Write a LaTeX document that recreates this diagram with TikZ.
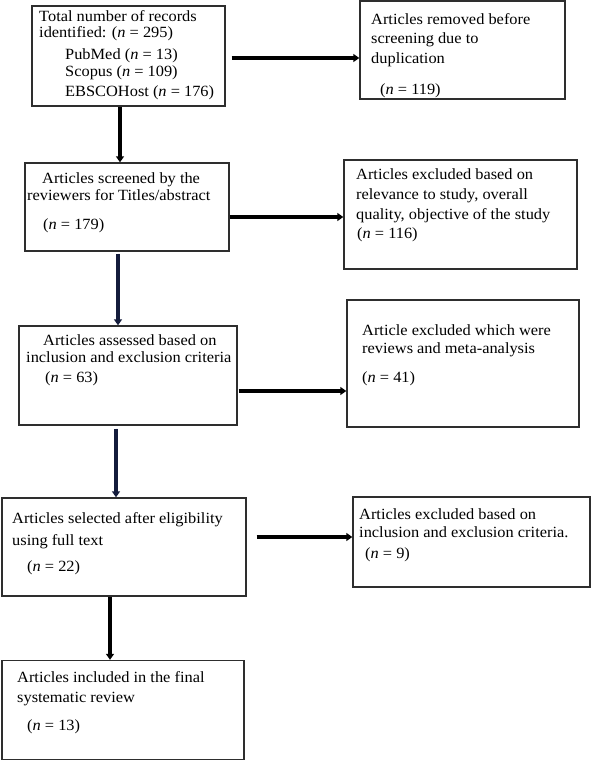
\documentclass[tikz,border=0pt]{standalone}
\usepackage{fontspec}
\setmainfont[FakeStretch=1.05]{Liberation Serif}
\usetikzlibrary{arrows.meta}
\definecolor{boxline}{HTML}{2E2E2E}
\definecolor{navy}{HTML}{141C3C}
\begin{document}
\begin{tikzpicture}[x=1pt,y=-1pt,
  box/.style={draw=boxline,line width=1.4pt,inner sep=0pt,rectangle,fill=none},
  txt/.style={anchor=base west,inner sep=0pt,font=\fontsize{15.6}{18}\selectfont},
  arr/.style={line width=3.6pt,draw=black,-{Triangle[width=8pt,length=6pt]}},
  navyarr/.style={arr,draw=navy,fill=navy}]
\useasboundingbox (0,0) rectangle (592,761);
% boxes
\node[box,minimum width=193,minimum height=100] (b1) at (128.5,56) {};
\node[box,minimum width=205,minimum height=98] (b2) at (462.5,50) {};
\node[box,minimum width=204,minimum height=88] (b3) at (127,207) {};
\node[box,minimum width=233,minimum height=109] (b4) at (460.5,214.5) {};
\node[box,minimum width=218,minimum height=99] (b5) at (128,375.5) {};
\node[box,minimum width=232,minimum height=127] (b6) at (463,363.5) {};
\node[box,minimum width=244,minimum height=98] (b7) at (124,547) {};
\node[box,minimum width=237,minimum height=90] (b8) at (471.5,542) {};
\node[box,minimum width=242,minimum height=99] (b9) at (123,710) {};
% texts
\node[txt] (t1a) at (39,21) {Total number of records};
\node[txt] (t1b) at (39,37) {identified: (\textit{n} = 295)};
\node[txt] (t1c) at (65,59) {PubMed (\textit{n} = 13)};
\node[txt] (t1d) at (65,76) {Scopus (\textit{n} = 109)};
\node[txt] (t1e) at (65,96) {EBSCOHost (\textit{n} = 176)};
\node[txt] (t2a) at (371,24) {Articles removed before};
\node[txt] (t2b) at (371,43) {screening due to};
\node[txt] (t2c) at (371,63) {duplication};
\node[txt] (t2d) at (380,94) {(\textit{n} = 119)};
\node[txt] (t3a) at (42,183) {Articles screened by the};
\node[txt] (t3b) at (27,200) {reviewers for Titles/abstract};
\node[txt] (t3c) at (43,229) {(\textit{n} = 179)};
\node[txt] (t4a) at (356,179) {Articles excluded based on};
\node[txt] (t4b) at (356,199) {relevance to study, overall};
\node[txt] (t4c) at (356,219) {quality, objective of the study};
\node[txt] (t4d) at (357,238) {(\textit{n} = 116)};
\node[txt] (t5a) at (43,345) {Articles assessed based on};
\node[txt] (t5b) at (26,362) {inclusion and exclusion criteria};
\node[txt] (t5c) at (45,382) {(\textit{n} = 63)};
\node[txt] (t6a) at (362,335) {Article excluded which were};
\node[txt] (t6b) at (362,353) {reviews and meta-analysis};
\node[txt] (t6c) at (362,382) {(\textit{n} = 41)};
\node[txt] (t7a) at (12,523) {Articles selected after eligibility};
\node[txt] (t7b) at (12,545) {using full text};
\node[txt] (t7c) at (27,571) {(\textit{n} = 22)};
\node[txt] (t8a) at (359,519) {Articles excluded based on};
\node[txt] (t8b) at (359,537) {inclusion and exclusion criteria.};
\node[txt] (t8c) at (365,558) {(\textit{n} = 9)};
\node[txt] (t9a) at (17,682) {Articles included in the final};
\node[txt] (t9b) at (17,702) {systematic review};
\node[txt] (t9c) at (27,730) {(\textit{n} = 13)};
% connectors
\draw[arr] ([xshift=6pt,yshift=-2pt]b1.east) -- ([yshift=-2pt]b1.east -| b2.west);
\draw[arr] ([xshift=-8.5pt]b1.south) -- ([xshift=-8.5pt]b1.south |- b3.north);
\draw[arr] ([yshift=-10pt]b3.east) -- ([yshift=-10pt]b3.east -| b4.west);
\draw[navyarr] ([xshift=-9pt,yshift=-2pt]b3.south) -- ([xshift=-9pt]b3.south |- b5.north);
\draw[arr] ([xshift=1pt,yshift=-15.5pt]b5.east) -- ([yshift=-15.5pt]b5.east -| b6.west);
\draw[navyarr] ([xshift=-12pt,yshift=-3pt]b5.south) -- ([xshift=-12pt]b5.south |- b7.north);
\draw[arr] ([xshift=10pt,yshift=10pt]b7.east) -- ([yshift=10pt]b7.east -| b8.west);
\draw[arr] ([xshift=-14pt]b7.south) -- ([xshift=-14pt]b7.south |- b9.north);
\end{tikzpicture}
\end{document}
